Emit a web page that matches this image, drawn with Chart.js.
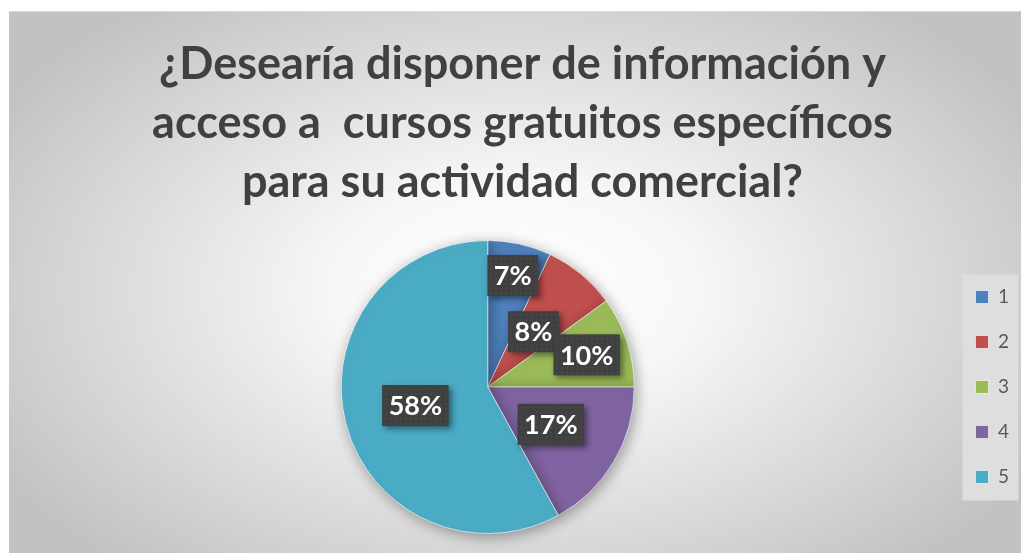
<!DOCTYPE html>
<html>
<head>
<meta charset="utf-8">
<script src="https://cdn.jsdelivr.net/npm/chart.js@4/dist/chart.umd.min.js"></script>
<style>
html,body{margin:0;padding:0;background:#fff;}
#wrap{width:1021px;height:553px;position:relative;}
</style>
</head>
<body>
<div id="wrap"><canvas id="c" width="1021" height="553"></canvas></div>
<script>
const titleLines = ["¿Desearía disponer de información y", "acceso a  cursos gratuitos específicos", "para su actividad comercial?"];
const categories = ["1", "2", "3", "4", "5"];
const percentages = [7, 8, 10, 17, 58];
const sliceColors = ["#4f81bd", "#c0504d", "#9bbb59", "#8064a2", "#4bacc6"];
const labelRadiusFraction = [0.78, 0.49, 0.71, 0.5, 0.51];

const bgPlugin = {
  id: 'bg',
  beforeDraw(chart) {
    const ctx = chart.ctx;
    ctx.save();
    ctx.fillStyle = '#ffffff';
    ctx.fillRect(0, 0, chart.width, chart.height);
    const x0 = 9, y0 = 11, w = chart.width - x0, h = chart.height - y0;
    const cx = 515, cy = 290, rx = 600, ry = 360;
    ctx.beginPath();
    ctx.rect(x0, y0, w, h);
    ctx.clip();
    ctx.translate(cx, cy);
    ctx.scale(1, ry / rx);
    const g = ctx.createRadialGradient(0, 0, 0, 0, 0, rx);
    g.addColorStop(0, '#ffffff');
    g.addColorStop(0.3, '#f7f7f7');
    g.addColorStop(1, '#c2c2c2');
    ctx.fillStyle = g;
    ctx.fillRect(-cx - 10, -cy * rx / ry - 10, chart.width + 20, chart.height * rx / ry + 40);
    ctx.restore();
    ctx.save();
    ctx.strokeStyle = '#d9d9d9';
    ctx.lineWidth = 1;
    ctx.beginPath();
    ctx.moveTo(x0, y0 + 0.5); ctx.lineTo(chart.width - 2, y0 + 0.5);
    ctx.stroke();
    ctx.restore();
    // legend background
    const lg = chart.legend;
    if (lg && lg.legendHitBoxes && lg.legendHitBoxes.length) {
      ctx.save();
      ctx.fillStyle = '#dedede';
      const lx = lg.left + lg.options.labels.padding - 13;
      const items = lg.legendHitBoxes;
      const top = items[0].top - 13;
      const bottom = items[items.length - 1].top + items[items.length - 1].height + 14;
      ctx.fillRect(lx, top, 56, bottom - top);
      ctx.restore();
    }
  },
  beforeDatasetsDraw(chart) {
    const ctx = chart.ctx;
    ctx.save();
    ctx.shadowColor = 'rgba(0,0,0,0.35)';
    ctx.shadowBlur = 14;
    ctx.shadowOffsetX = 2;
    ctx.shadowOffsetY = 3;
  },
  afterDatasetsDraw(chart) {
    chart.ctx.restore();
    const ctx = chart.ctx;
    const meta = chart.getDatasetMeta(0);
    ctx.save();
    ctx.font = 'bold 27px Lato';
    ctx.textAlign = 'center';
    ctx.textBaseline = 'middle';
    meta.data.forEach((arc, i) => {
      const mid = (arc.startAngle + arc.endAngle) / 2;
      const r = arc.outerRadius * labelRadiusFraction[i];
      const x = arc.x + Math.cos(mid) * r;
      const y = arc.y + Math.sin(mid) * r;
      const txt = percentages[i] + '%';
      const tw = ctx.measureText(txt).width;
      const bw = tw + 13, bh = 41;
      ctx.save();
      ctx.shadowColor = 'rgba(0,0,0,0.45)';
      ctx.shadowBlur = 6;
      ctx.shadowOffsetX = 3;
      ctx.shadowOffsetY = 3;
      ctx.fillStyle = '#404040';
      ctx.fillRect(x - bw / 2, y - bh / 2, bw, bh);
      ctx.restore();
      ctx.fillStyle = 'rgba(255,255,255,0.08)';
      for (let yy = y - bh / 2 + 3; yy < y + bh / 2 - 1; yy += 5) {
        for (let xx = x - bw / 2 + 3; xx < x + bw / 2 - 1; xx += 5) {
          ctx.fillRect(xx, yy, 1.5, 1.5);
        }
      }
      ctx.fillStyle = '#ffffff';
      ctx.fillText(txt, x, y + 1);
    });
    ctx.restore();
  }
};

new Chart(document.getElementById('c'), {
  type: 'pie',
  data: {
    labels: categories,
    datasets: [{
      data: percentages,
      backgroundColor: sliceColors,
      borderColor: 'rgba(255,255,255,0.6)',
      borderWidth: 1
    }]
  },
  options: {
    responsive: false,
    animation: false,
    layout: { padding: { left: 26, right: 2, top: 4, bottom: 19 } },
    plugins: {
      tooltip: { enabled: false },
      title: {
        display: true,
        text: titleLines,
        color: '#404040',
        font: { family: 'Lato', weight: 'bold', size: 45, lineHeight: '59px' },
        padding: { top: 31, bottom: 28 }
      },
      legend: {
        position: 'right',
        align: 'center',
        fullSize: false,
        labels: {
          boxWidth: 13,
          boxHeight: 13,
          padding: 26,
          color: '#595959',
          font: { family: 'Lato', size: 19 }
        }
      }
    }
  },
  plugins: [bgPlugin]
});
</script>
</body>
</html>
